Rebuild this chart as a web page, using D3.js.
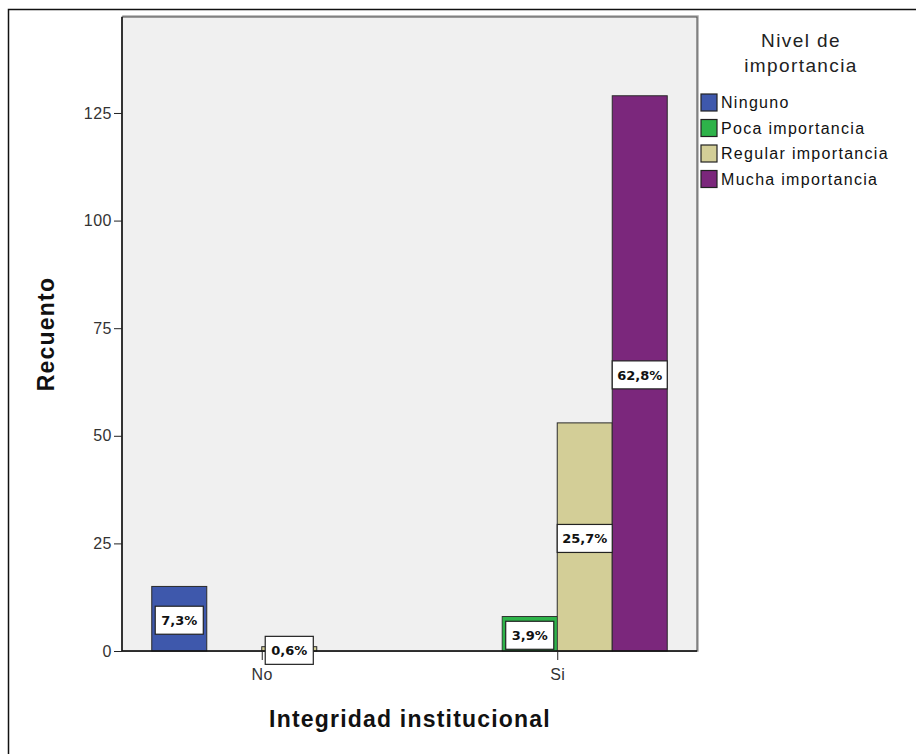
<!DOCTYPE html>
<html>
<head>
<meta charset="utf-8">
<script src="https://cdn.jsdelivr.net/npm/d3@7"></script>
<style>
  html, body { margin: 0; padding: 0; background: #fff; }
  svg { display: block; }
</style>
</head>
<body>
<svg id="chart" width="916" height="754"></svg>
<script>
// Categories and series
const groups = ["No", "Si"];
const levels = ["Ninguno", "Poca importancia", "Regular importancia", "Mucha importancia"];
const levelColors = ["#3E58AC", "#2EB34A", "#D3CE97", "#7B277C"];

// Counts per level, one array per group (order follows `levels`)
const countsNo = [15, 0, 1, 0];
const countsSi = [0, 8, 53, 129];

// Percentage labels per level (null = no label)
const pctNo = ["7,3%", null, "0,6%", null];
const pctSi = [null, "3,9%", "25,7%", "62,8%"];

const yTicks = [0, 25, 50, 75, 100, 125];

const FONT = "Liberation Sans, Arial, sans-serif";
const svg = d3.select("#chart");

// Outer frame
svg.append("rect")
  .attr("x", 8.5).attr("y", 9.5)
  .attr("width", 1000).attr("height", 1000)
  .attr("fill", "#fff").attr("stroke", "#111").attr("stroke-width", 1.5);

const plot = { left: 122, top: 17, right: 697, bottom: 651 };

// Plot panel with a soft shadow edge
svg.append("rect")
  .attr("x", plot.left + 1).attr("y", plot.top - 1)
  .attr("width", plot.right - plot.left).attr("height", plot.bottom - plot.top + 1)
  .attr("fill", "none").attr("stroke", "#aaa").attr("stroke-width", 1.5);
svg.append("rect")
  .attr("x", plot.left).attr("y", plot.top)
  .attr("width", plot.right - plot.left).attr("height", plot.bottom - plot.top)
  .attr("fill", "#F0F0F0").attr("stroke", "#444").attr("stroke-width", 1);

const y = d3.scaleLinear().domain([0, 147.3]).range([plot.bottom, plot.top]);
const x0 = d3.scalePoint().domain(groups).range([plot.left, plot.right]).padding(0.473);
const x1 = d3.scaleBand().domain(levels).range([-110, 110]);

const rows = [
  { g: "No", counts: countsNo, pcts: pctNo },
  { g: "Si", counts: countsSi, pcts: pctSi }
];

const bars = [];
rows.forEach(r => {
  levels.forEach((lv, i) => {
    bars.push({ g: r.g, level: lv, i, value: r.counts[i], pct: r.pcts[i] });
  });
});

// Bars
svg.append("g").selectAll("rect")
  .data(bars.filter(d => d.value > 0))
  .join("rect")
  .attr("x", d => x0(d.g) + x1(d.level))
  .attr("y", d => y(d.value))
  .attr("width", x1.bandwidth())
  .attr("height", d => y(0) - y(d.value))
  .attr("fill", d => levelColors[d.i])
  .attr("stroke", "#2a2a2a")
  .attr("stroke-width", 1);

// Green bar gets its thick coloured rim inside the outline
svg.append("g").selectAll("rect")
  .data(bars.filter(d => d.value > 0 && d.i === 1))
  .join("rect")
  .attr("x", d => x0(d.g) + x1(d.level) + 1.5)
  .attr("y", d => y(d.value) + 1.5)
  .attr("width", x1.bandwidth() - 3)
  .attr("height", d => y(0) - y(d.value) - 3)
  .attr("fill", "none")
  .attr("stroke", levelColors[1])
  .attr("stroke-width", 2);

// Axes
const yAxis = d3.axisLeft(y).tickValues(yTicks).tickSize(8).tickPadding(2);
const gy = svg.append("g").attr("transform", `translate(${plot.left},0)`).call(yAxis);
gy.select(".domain").attr("d", `M0,${plot.top}V${plot.bottom}`).attr("stroke", "#111").attr("stroke-width", 1.5);
gy.selectAll(".tick line").attr("stroke", "#222");
gy.selectAll(".tick text")
  .attr("font-family", FONT).attr("letter-spacing", 0.5)
  .attr("font-size", 16).attr("fill", "#333");

const xAxis = d3.axisBottom(x0).tickSize(9).tickPadding(9);
const gx = svg.append("g").attr("transform", `translate(0,${plot.bottom})`).call(xAxis);
gx.select(".domain").attr("d", `M${plot.left},0H${plot.right}`).attr("stroke", "#111").attr("stroke-width", 1.5);
gx.selectAll(".tick line").attr("stroke", "#222");
gx.selectAll(".tick text")
  .attr("font-family", FONT).attr("letter-spacing", 0.5)
  .attr("font-size", 16).attr("fill", "#333");

// Percentage label boxes
const lab = svg.append("g");
bars.filter(d => d.pct).forEach(d => {
  const bx = x0(d.g) + x1(d.level);
  const cy = (y(d.value) + y(0)) / 2 + 1.5;
  const cx = bx + x1.bandwidth() / 2;
  const g = lab.append("g");
  const rect = g.append("rect");
  const t = g.append("text")
    .attr("x", cx).attr("y", cy + 5)
    .attr("text-anchor", "middle")
    .attr("font-family", "DejaVu Sans, sans-serif")
    .attr("font-size", 13).attr("font-weight", 600)
    .attr("fill", "#111")
    .text(d.pct);
  const tw = t.node().getComputedTextLength();
  const w = Math.min(tw + 12, x1.bandwidth());
  rect.attr("x", cx - w / 2).attr("y", cy - 14)
    .attr("width", w).attr("height", 28)
    .attr("fill", "#fff").attr("stroke", "#222").attr("stroke-width", 1.2);
});

// Axis titles
svg.append("text")
  .attr("transform", `translate(54,${(plot.top + plot.bottom) / 2}) rotate(-90)`)
  .attr("text-anchor", "middle")
  .attr("font-family", FONT).attr("letter-spacing", 1.2)
  .attr("font-size", 23).attr("font-weight", "bold").attr("fill", "#111")
  .text("Recuento");

svg.append("text")
  .attr("x", 410).attr("y", 727)
  .attr("text-anchor", "middle")
  .attr("font-family", FONT).attr("letter-spacing", 1.2)
  .attr("font-size", 23).attr("font-weight", "bold").attr("fill", "#111")
  .text("Integridad institucional");

// Legend
const leg = svg.append("g");
["Nivel de", "importancia"].forEach((s, i) => {
  leg.append("text")
    .attr("x", 801).attr("y", 47 + i * 25)
    .attr("text-anchor", "middle")
    .attr("font-family", FONT).attr("letter-spacing", 1.4)
    .attr("font-size", 19).attr("fill", "#222")
    .text(s);
});
levels.forEach((lv, i) => {
  const yy = 94 + i * 25.5;
  leg.append("rect")
    .attr("x", 701).attr("y", yy)
    .attr("width", 16).attr("height", 17)
    .attr("fill", levelColors[i]).attr("stroke", "#222").attr("stroke-width", 1.2);
  leg.append("text")
    .attr("x", 721).attr("y", yy + 14)
    .attr("font-family", FONT).attr("letter-spacing", 1.3)
    .attr("font-size", 16).attr("fill", "#111")
    .text(lv);
});
</script>
</body>
</html>
